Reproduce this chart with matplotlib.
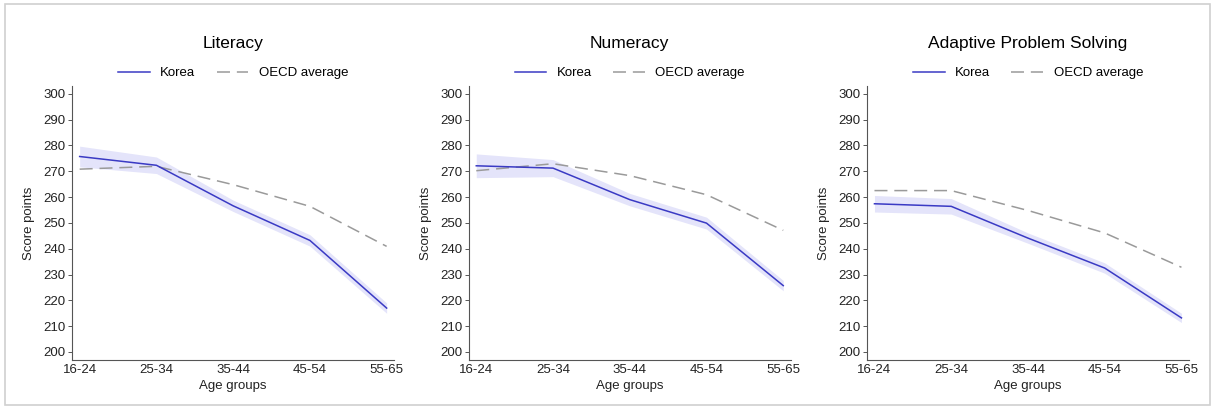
import matplotlib
matplotlib.use("Agg")
import matplotlib.pyplot as plt
from matplotlib.patches import Rectangle

plt.rcParams['font.family'] = ['Liberation Sans', 'DejaVu Sans']

age_groups = ['16-24', '25-34', '35-44', '45-54', '55-65']
titles = ['Literacy', 'Numeracy', 'Adaptive Problem Solving']

korea_lit = [275.7, 272.3, 256.6, 243.2, 217.0]
oecd_lit = [270.8, 271.9, 264.8, 256.4, 240.9]
ci_lit = [4.0, 3.2, 2.2, 2.2, 2.0]

korea_num = [272.1, 271.2, 259.0, 249.9, 225.7]
oecd_num = [270.2, 272.9, 268.3, 260.9, 247.1]
ci_num = [4.6, 3.3, 2.4, 2.3, 2.0]

korea_aps = [257.4, 256.4, 244.1, 232.5, 213.2]
oecd_aps = [262.5, 262.5, 254.8, 246.1, 232.8]
ci_aps = [3.2, 3.0, 2.0, 2.0, 1.8]

korea_all = [korea_lit, korea_num, korea_aps]
oecd_all = [oecd_lit, oecd_num, oecd_aps]
ci_all = [ci_lit, ci_num, ci_aps]

lefts = [0.0593, 0.386, 0.714]
fig = plt.figure(figsize=(12.14, 4.07), dpi=100)
fig.patches.append(Rectangle((5 / 1214, 2 / 407), 1205 / 1214, 401 / 407,
                             transform=fig.transFigure, fill=False,
                             edgecolor='#d0d0d0', linewidth=1.2))

x = list(range(len(age_groups)))
for i in range(3):
    ax = fig.add_axes([lefts[i], 0.1155, 0.2655, 0.6732])
    k = korea_all[i]
    c = ci_all[i]
    lo = [a - b for a, b in zip(k, c)]
    hi = [a + b for a, b in zip(k, c)]
    ax.fill_between(x, lo, hi, color='#e4e4fa', linewidth=0, zorder=1)
    ax.plot(x, k, color='#3a3ac4', linewidth=1.1, label='Korea', zorder=3)
    ax.plot(x, oecd_all[i], color='#9a9a9a', linewidth=1.1, dashes=(8.5, 4.5),
            label='OECD average', zorder=2)
    ax.set_xlim(-0.1, 4.1)
    ax.set_ylim(196.9, 303)
    ax.set_yticks(range(200, 301, 10))
    ax.set_xticks(x)
    ax.set_xticklabels(age_groups)
    for s in ['top', 'right']:
        ax.spines[s].set_visible(False)
    for s in ['left', 'bottom']:
        ax.spines[s].set_color('#555555')
        ax.spines[s].set_linewidth(0.8)
    ax.tick_params(axis='y', length=3, width=0.7, color='#555555', labelsize=9.5,
                   pad=1.5, labelcolor='#222222')
    ax.tick_params(axis='x', length=0, labelsize=9.5, pad=3, labelcolor='#222222')
    ax.set_xlabel('Age groups', fontsize=9.5, labelpad=3, color='#222222')
    ax.set_ylabel('Score points', fontsize=9.5, labelpad=6, color='#222222')
    ax.set_title(titles[i], fontsize=12.5, pad=27)
    ax.legend(loc='lower center', bbox_to_anchor=(0.5, 1.0), ncol=2,
              frameon=False, fontsize=9.5, handlelength=2.4, columnspacing=1.6,
              handletextpad=0.8, borderaxespad=0.1)

fig.savefig('out.png', dpi=100, facecolor='white')
